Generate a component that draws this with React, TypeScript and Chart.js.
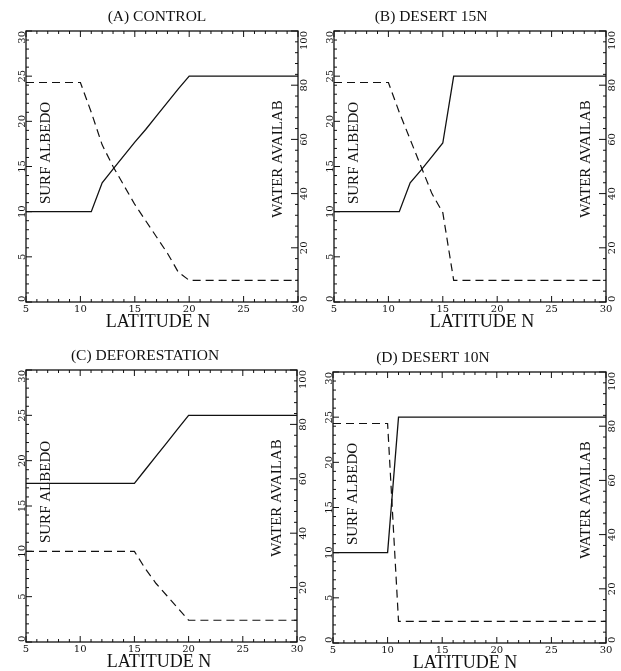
import React, { useEffect, useRef } from "react";
import { Chart, registerables } from "chart.js";

Chart.register(...registerables);

// ---------- data ----------
const latitude = [5, 6, 7, 8, 9, 10, 11, 12, 13, 14, 15, 16, 17, 18, 19, 20, 21, 22, 23, 24, 25, 26, 27, 28, 29, 30];
const latitudeTicks = [5, 10, 15, 20, 25, 30];
const albedoTicks = [0, 5, 10, 15, 20, 25, 30];
const waterTicks = [0, 20, 40, 60, 80, 100];
const panelTitles = ["(A) CONTROL", "(B) DESERT 15N", "(C) DEFORESTATION", "(D) DESERT 10N"];
const xAxisTitle = "LATITUDE N";
const leftAxisTitle = "SURF ALBEDO";
const rightAxisTitle = "WATER AVAILAB";

// surface albedo (%), left axis
const controlAlbedo = [10, 10, 10, 10, 10, 10, 10, 13.2, 14.7, 16.2, 17.7, 19.1, 20.6, 22.1, 23.6, 25, 25, 25, 25, 25, 25, 25, 25, 25, 25, 25];
const desert15Albedo = [10, 10, 10, 10, 10, 10, 10, 13.2, 14.6, 16.1, 17.6, 25, 25, 25, 25, 25, 25, 25, 25, 25, 25, 25, 25, 25, 25, 25];
const deforestAlbedo = [17.5, 17.5, 17.5, 17.5, 17.5, 17.5, 17.5, 17.5, 17.5, 17.5, 17.5, 19, 20.5, 22, 23.5, 25, 25, 25, 25, 25, 25, 25, 25, 25, 25, 25];
const desert10Albedo = [10, 10, 10, 10, 10, 10, 25, 25, 25, 25, 25, 25, 25, 25, 25, 25, 25, 25, 25, 25, 25, 25, 25, 25, 25, 25];

// water availability (%), right axis
const controlWater = [81, 81, 81, 81, 81, 81, 70, 58, 50, 43, 36, 30, 24, 18, 11, 8, 8, 8, 8, 8, 8, 8, 8, 8, 8, 8];
const desert15Water = [81, 81, 81, 81, 81, 81, 70, 60, 50, 40, 33, 8, 8, 8, 8, 8, 8, 8, 8, 8, 8, 8, 8, 8, 8, 8];
const deforestWater = [33.3, 33.3, 33.3, 33.3, 33.3, 33.3, 33.3, 33.3, 33.3, 33.3, 33.3, 27, 21.5, 17, 12.5, 8, 8, 8, 8, 8, 8, 8, 8, 8, 8, 8];
const desert10Water = [81, 81, 81, 81, 81, 81, 8, 8, 8, 8, 8, 8, 8, 8, 8, 8, 8, 8, 8, 8, 8, 8, 8, 8, 8, 8];

const albedoSeries = [controlAlbedo, desert15Albedo, deforestAlbedo, desert10Albedo];
const waterSeries = [controlWater, desert15Water, deforestWater, desert10Water];

// ---------- layout ----------
const panels = [
  { left: 0, top: 0, width: 310, height: 335, pad: { left: 26, top: 31, right: 12, bottom: 33 }, titleX: 157, xTitleX: 158 },
  { left: 310, top: 0, width: 311, height: 335, pad: { left: 24, top: 31, right: 15, bottom: 33 }, titleX: 121, xTitleX: 172 },
  { left: 0, top: 335, width: 310, height: 336, pad: { left: 26, top: 35, right: 13, bottom: 29 }, titleX: 145, xTitleX: 159 },
  { left: 310, top: 335, width: 311, height: 336, pad: { left: 23, top: 37, right: 15, bottom: 28 }, titleX: 123, xTitleX: 155 },
];

const SERIF = "'Liberation Serif', 'Times New Roman', serif";
const TICK_FONT = "10px 'DejaVu Serif', serif";
const INK = "#111";

function makePlugin(idx: number) {
  const p = panels[idx];
  return {
    id: "frame" + idx,
    afterDraw(chart: any) {
      const ctx = chart.ctx as CanvasRenderingContext2D;
      const a = chart.chartArea;
      const xs = chart.scales.x;
      const ya = chart.scales.yA;
      const yw = chart.scales.yW;
      ctx.save();
      ctx.strokeStyle = INK;
      ctx.fillStyle = INK;
      ctx.lineWidth = 1.3;
      ctx.strokeRect(a.left, a.top, a.right - a.left, a.bottom - a.top);

      const line = (x1: number, y1: number, x2: number, y2: number) => {
        ctx.beginPath();
        ctx.moveTo(x1, y1);
        ctx.lineTo(x2, y2);
        ctx.stroke();
      };
      ctx.lineWidth = 1;
      // x ticks (minor every 1 deg, major every 5)
      for (let v = xs.min; v <= xs.max; v += 1) {
        const px = xs.getPixelForValue(v);
        const len = latitudeTicks.includes(v) ? 6 : 3;
        line(px, a.bottom, px, a.bottom - len);
        line(px, a.top, px, a.top + len);
      }
      // left ticks
      for (let v = ya.min; v <= ya.max; v += 1) {
        const py = ya.getPixelForValue(v);
        const len = albedoTicks.includes(v) ? 6 : 3;
        line(a.left, py, a.left + len, py);
      }
      // right ticks
      for (let v = yw.min; v <= yw.max; v += 4) {
        const py = yw.getPixelForValue(v);
        const len = waterTicks.includes(v) ? 7 : 3;
        line(a.right, py, a.right - len, py);
      }

      // tick labels
      ctx.font = TICK_FONT;
      ctx.textAlign = "center";
      ctx.textBaseline = "middle";
      latitudeTicks.forEach((v) => {
        ctx.fillText(String(v), xs.getPixelForValue(v), a.bottom + 7);
      });
      const rotLabel = (text: string, x: number, py: number) => {
        const w = ctx.measureText(text).width;
        let cy = py;
        if (cy - w / 2 < a.top) cy = a.top + w / 2;
        if (cy + w / 2 > a.bottom) cy = a.bottom - w / 2;
        ctx.save();
        ctx.translate(x, cy);
        ctx.rotate(-Math.PI / 2);
        ctx.textAlign = "center";
        ctx.textBaseline = "alphabetic";
        ctx.fillText(text, 0, 0);
        ctx.restore();
      };
      albedoTicks.forEach((v) => rotLabel(String(v), a.left - 1, ya.getPixelForValue(v)));
      waterTicks.forEach((v) => rotLabel(String(v), a.right + 8.5, yw.getPixelForValue(v)));

      // panel title
      ctx.font = `15.5px ${SERIF}`;
      ctx.textAlign = "center";
      ctx.textBaseline = "middle";
      ctx.fillText(panelTitles[idx], p.titleX, a.top - 14);
      // x axis title
      ctx.font = `18px ${SERIF}`;
      ctx.fillText(xAxisTitle, p.xTitleX, a.bottom + 20);

      // in-plot rotated axis titles
      ctx.font = `15px ${SERIF}`;
      ctx.save();
      ctx.translate(a.left + 20, a.top + 122);
      ctx.rotate(-Math.PI / 2);
      ctx.textBaseline = "middle";
      ctx.fillText(leftAxisTitle, 0, 0);
      ctx.restore();
      ctx.save();
      ctx.translate(a.right - 20, a.top + 128);
      ctx.rotate(-Math.PI / 2);
      ctx.textBaseline = "middle";
      ctx.fillText(rightAxisTitle, 0, 0);
      ctx.restore();

      ctx.restore();
    },
  };
}

function Panel({ idx }: { idx: number }) {
  const ref = useRef<HTMLCanvasElement | null>(null);
  const p = panels[idx];
  useEffect(() => {
    if (!ref.current) return;
    const chart = new Chart(ref.current, {
      type: "line",
      data: {
        datasets: [
          {
            label: leftAxisTitle,
            data: latitude.map((x, i) => ({ x, y: albedoSeries[idx][i] })),
            yAxisID: "yA",
            borderColor: INK,
            borderWidth: 1.3,
            pointRadius: 0,
            tension: 0,
            fill: false,
          },
          {
            label: rightAxisTitle,
            data: latitude.map((x, i) => ({ x, y: waterSeries[idx][i] })),
            yAxisID: "yW",
            borderColor: INK,
            borderWidth: 1.2,
            borderDash: [8, 5],
            pointRadius: 0,
            tension: 0,
            fill: false,
          },
        ],
      },
      options: {
        animation: false,
        responsive: false,
        maintainAspectRatio: false,
        devicePixelRatio: 1,
        layout: { padding: p.pad },
        plugins: { legend: { display: false }, tooltip: { enabled: false }, title: { display: false } },
        events: [],
        scales: {
          x: { type: "linear", min: 5, max: 30, display: false },
          yA: { type: "linear", position: "left", min: 0, max: 30, display: false },
          yW: { type: "linear", position: "right", min: 0, max: 100, display: false },
        },
      },
      plugins: [makePlugin(idx)],
    });
    return () => chart.destroy();
  }, [idx]);
  return (
    <canvas
      ref={ref}
      width={p.width}
      height={p.height}
      style={{ position: "absolute", left: p.left, top: p.top, width: p.width, height: p.height }}
    />
  );
}

export default function App() {
  return (
    <div style={{ position: "absolute", left: 0, top: 0, width: 621, height: 671, background: "#fff" }}>
      {panels.map((_, i) => (
        <Panel key={i} idx={i} />
      ))}
    </div>
  );
}
